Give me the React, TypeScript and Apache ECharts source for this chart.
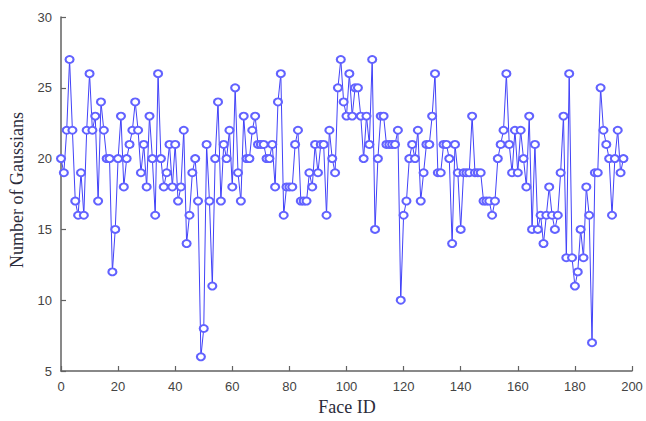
import React, { useEffect, useRef } from "react";
import * as echarts from "echarts";

// Number of Gaussians per face (Face ID 0..197)
const faceIds: number[] = Array.from({ length: 198 }, (_, i) => i);
const gaussians: number[] = [
  20, 19, 22, 27, 22, 17, 16, 19, 16, 22,
  26, 22, 23, 17, 24, 22, 20, 20, 12, 15,
  20, 23, 18, 20, 21, 22, 24, 22, 19, 21,
  18, 23, 20, 16, 26, 20, 18, 19, 21, 18,
  21, 17, 18, 22, 14, 16, 19, 20, 17, 6,
  8, 21, 17, 11, 20, 24, 17, 21, 20, 22,
  18, 25, 19, 17, 23, 20, 20, 22, 23, 21,
  21, 21, 20, 20, 21, 18, 24, 26, 16, 18,
  18, 18, 21, 22, 17, 17, 17, 19, 18, 21,
  19, 21, 21, 16, 22, 20, 19, 25, 27, 24,
  23, 26, 23, 25, 25, 23, 20, 23, 21, 27,
  15, 20, 23, 23, 21, 21, 21, 21, 22, 10,
  16, 17, 20, 21, 20, 22, 17, 19, 21, 21,
  23, 26, 19, 19, 21, 21, 20, 14, 21, 19,
  15, 19, 19, 19, 23, 19, 19, 19, 17, 17,
  17, 16, 17, 20, 21, 22, 26, 21, 19, 22,
  19, 22, 20, 18, 23, 15, 21, 15, 16, 14,
  16, 18, 16, 15, 16, 19, 23, 13, 26, 13,
  11, 12, 15, 13, 18, 16, 7, 19, 19, 25,
  22, 21, 20, 16, 20, 22, 19, 20,
];

const xTicks = { min: 0, max: 200, interval: 20 };
const yTicks = { min: 5, max: 30, interval: 5 };
const xTitle = "Face ID";
const yTitle = "Number of Gaussians";

export default function App() {
  const ref = useRef<HTMLDivElement>(null);
  useEffect(() => {
    if (!ref.current) return;
    const chart = echarts.init(ref.current, null, { renderer: "svg" });
    const axisColor = "#626262";
    const labelFont = {
      color: "#444",
      fontSize: 13,
      fontFamily: "'Liberation Sans Narrow', 'Arial Narrow', 'Liberation Sans', Arial, sans-serif",
    };
    chart.setOption({
      animation: false,
      backgroundColor: "#ffffff",
      grid: { left: 61, right: 14, top: 17, bottom: 50, containLabel: false },
      xAxis: {
        type: "value",
        min: xTicks.min,
        max: xTicks.max,
        interval: xTicks.interval,
        axisLine: { show: true, onZero: false, lineStyle: { color: axisColor, width: 1.5 } },
        axisTick: { show: true, inside: true, length: 5, lineStyle: { color: axisColor, width: 1.2 } },
        axisLabel: { ...labelFont, margin: 9 },
        splitLine: { show: false },
      },
      yAxis: {
        type: "value",
        min: yTicks.min,
        max: yTicks.max,
        interval: yTicks.interval,
        axisLine: { show: true, onZero: false, lineStyle: { color: axisColor, width: 1.5 } },
        axisTick: { show: true, inside: true, length: 5, lineStyle: { color: axisColor, width: 1.2 } },
        axisLabel: { ...labelFont, margin: 9 },
        splitLine: { show: false },
      },
      graphic: [
        {
          type: "text",
          x: 17,
          y: 190,
          rotation: Math.PI / 2,
          style: {
            text: yTitle,
            fill: "#2b2b3a",
            fontSize: 18,
            fontFamily: "'Liberation Serif', 'Times New Roman', serif",
            textAlign: "center",
            textVerticalAlign: "middle",
          },
        },
        {
          type: "text",
          x: 347,
          y: 407,
          style: {
            text: xTitle,
            fill: "#2b2b3a",
            fontSize: 18,
            fontFamily: "'Liberation Serif', 'Times New Roman', serif",
            textAlign: "center",
            textVerticalAlign: "middle",
          },
        },
      ],
      series: [
        {
          type: "line",
          data: faceIds.map((id, i) => [id, gaussians[i]]),
          symbol: "emptyCircle",
          symbolSize: [8, 7],
          showAllSymbol: true,
          lineStyle: { color: "#4242f8", width: 1 },
          itemStyle: { color: "#6262ff", borderColor: "#6262ff", borderWidth: 1 },
          emphasis: { disabled: true },
        },
      ],
    });
    return () => chart.dispose();
  }, []);
  return (
    <div
      ref={ref}
      style={{ position: "fixed", left: 0, top: 0, width: 646, height: 421, background: "#fff" }}
    />
  );
}
